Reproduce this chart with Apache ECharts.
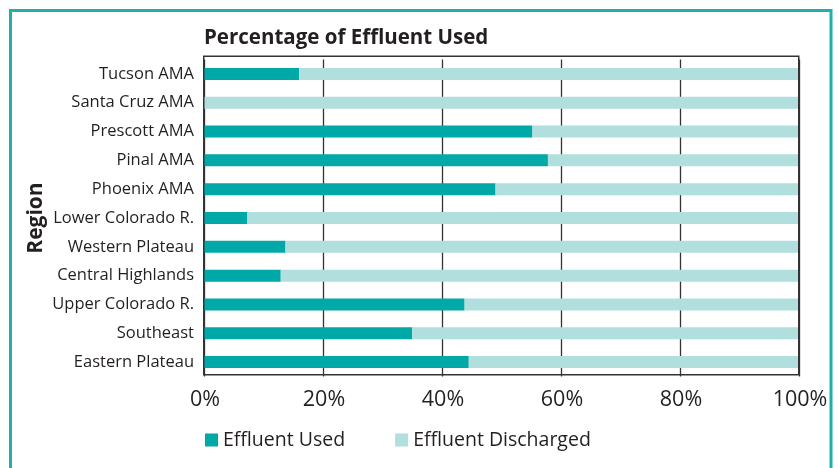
<!DOCTYPE html>
<html>
<head>
<meta charset="utf-8">
<script src="https://cdn.jsdelivr.net/npm/echarts@6/dist/echarts.min.js"></script>
<style>
  html, body { margin: 0; padding: 0; background: #fff; }
  #chart { width: 838px; height: 468px; }
</style>
</head>
<body>
<div id="chart"></div>
<script>
// regions, top to bottom
var regions = ["Tucson AMA", "Santa Cruz AMA", "Prescott AMA", "Pinal AMA", "Phoenix AMA",
    "Lower Colorado R.", "Western Plateau", "Central Highlands", "Upper Colorado R.",
    "Southeast", "Eastern Plateau"];
// percent of effluent used / discharged
var used = [16, 0, 55.2, 57.8, 49, 7.3, 13.7, 12.9, 43.8, 35, 44.5];
var discharged = [84, 100, 44.8, 42.2, 51, 92.7, 86.3, 87.1, 56.2, 65, 55.5];
var xTicks = [0, 20, 40, 60, 80, 100];

var textColor = '#231f20';
var fontFam = '"Open Sans", "Noto Sans", sans-serif';

var chart = echarts.init(document.getElementById('chart'));
chart.setOption({
    animation: false,
    textStyle: { fontFamily: fontFam },
    graphic: [{
        // outer teal frame
        type: 'rect',
        shape: { x: 10.5, y: 10.5, width: 820.5, height: 480 },
        style: { fill: 'none', stroke: '#1fb1a9', lineWidth: 3 },
        silent: true
    }, {
        // plot box
        type: 'rect',
        shape: { x: 203.75, y: 56.25, width: 595, height: 318.5 },
        style: { fill: 'none', stroke: '#333', lineWidth: 1.5 },
        silent: true,
        z: 10
    }],
    title: {
        text: 'Percentage of Effluent Used',
        left: 199,
        top: 23,
        textStyle: { fontSize: 20.5, fontWeight: 'bold', color: textColor, fontFamily: fontFam }
    },
    legend: {
        left: 205,
        top: 430,
        padding: 0,
        itemWidth: 13,
        itemHeight: 13,
        itemGap: 50,
        icon: 'rect',
        textStyle: { fontSize: 19.5, color: textColor, fontFamily: fontFam },
        data: ['Effluent Used', 'Effluent Discharged']
    },
    grid: {
        left: 204,
        right: 39,
        top: 59.5,
        bottom: 91.5,
        show: false
    },
    xAxis: {
        type: 'value',
        min: xTicks[0],
        max: xTicks[xTicks.length - 1],
        interval: 20,
        axisLine: { show: false },
        axisTick: { show: false },
        splitLine: { show: true, lineStyle: { color: '#333', width: 1.3 } },
        axisLabel: {
            formatter: '{value}%',
            fontSize: 21.5,
            color: textColor,
            margin: 12,
            padding: [0, 0, 0, 2],
            fontFamily: fontFam
        }
    },
    yAxis: {
        type: 'category',
        inverse: true,
        data: regions,
        axisLine: { show: false },
        axisTick: { show: false },
        axisLabel: { fontSize: 16.5, color: textColor, margin: 10, fontFamily: fontFam },
        name: 'Region',
        nameLocation: 'middle',
        nameRotate: 90,
        nameGap: 157,
        nameMoveOverlap: false,
        nameTextStyle: { fontSize: 21, fontWeight: 'bold', color: textColor, fontFamily: fontFam }
    },
    series: [{
        name: 'Effluent Used',
        type: 'bar',
        stack: 'total',
        barWidth: 12,
        itemStyle: { color: '#00a9a8' },
        data: used
    }, {
        name: 'Effluent Discharged',
        type: 'bar',
        stack: 'total',
        barWidth: 12,
        itemStyle: { color: '#b0dfde' },
        data: discharged
    }]
});
</script>
</body>
</html>
